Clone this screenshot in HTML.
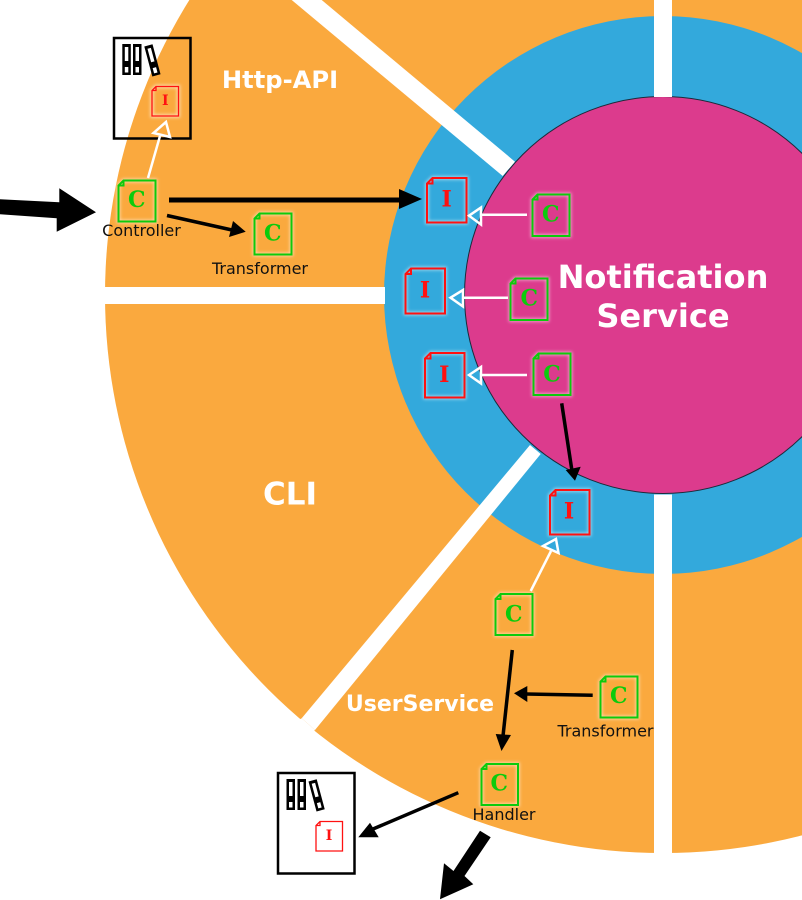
<!DOCTYPE html>
<html><head><meta charset="utf-8"><style>
html,body{margin:0;padding:0;background:#fff;width:802px;height:900px;overflow:hidden}
svg{display:block}
text{font-family:"DejaVu Sans",sans-serif}
.t{font-weight:bold;fill:#fff;text-anchor:middle}
.s{font-size:16px;fill:#111;text-anchor:middle}
.g{font-family:"DejaVu Serif",serif;font-weight:bold;text-anchor:middle}
</style></head><body>
<svg width="802" height="900" viewBox="0 0 802 900" xmlns="http://www.w3.org/2000/svg">
<defs>
<filter id="gl" x="-30%" y="-30%" width="160%" height="160%"><feGaussianBlur stdDeviation="1.5"/></filter>
<g id="bd">
<rect x="0" y="0" width="8.500" height="31" fill="#000"/>
<rect x="2.500" y="3" width="3.500" height="14" fill="#fff"/>
<rect x="2.500" y="23" width="3.500" height="5.500" fill="#fff"/>
</g>
</defs>

<circle cx="663" cy="295" r="558" fill="#faa93e"/>
<circle cx="663" cy="295" r="279" fill="#33a9dc"/>
<circle cx="663" cy="295" r="198.500" fill="#dc3b8d" stroke="#1c2a3a" stroke-width="1"/>

<rect x="654" y="0" width="18" height="97" fill="#fff"/>
<rect x="654" y="494.500" width="18" height="360" fill="#fff"/>
<rect x="100" y="287" width="285" height="17" fill="#fff"/>
<polygon points="291.700,0 321.700,0 515,161.700 502.700,176" fill="#fff"/>
<polygon points="530,445 540.700,454 315,730 301.700,718.300" fill="#fff"/>
<polygon points="301.700,718.300 315,730 300,740 290,725" fill="#fff"/>

<!-- boxes -->
<rect x="114" y="38" width="76.500" height="100.500" fill="none" stroke="#000" stroke-width="2.500"/>
<rect x="278" y="773" width="76.500" height="100.500" fill="none" stroke="#000" stroke-width="2.500"/>
<use href="#bd" transform="translate(122.300,44)"/>
<use href="#bd" transform="translate(133,44)"/>
<use href="#bd" transform="translate(144.300,46.500) rotate(-15)"/>
<use href="#bd" transform="translate(286.500,779)"/>
<use href="#bd" transform="translate(297.500,779)"/>
<use href="#bd" transform="translate(308.500,781.500) rotate(-15)"/>

<!-- icons -->
<g fill="none" stroke-linejoin="miter">
<g stroke="#fff" stroke-opacity=".55" stroke-width="3.500" filter="url(#gl)">
<path d="M123.500,180.500 H155.500 V221.500 H118.500 V185.500 Z"/>
<path d="M259.500,213.500 H291.500 V254.500 H254.500 V218.500 Z"/>
<path d="M156,86.500 H178.500 V116 H152 V90.500 Z"/>
<path d="M432.500,178 H466.500 V222.500 H427 V183.500 Z"/>
<path d="M411,268.500 H445 V313.500 H405.500 V274 Z"/>
<path d="M430.500,353 H464.500 V397.500 H425 V358.500 Z"/>
<path d="M537.500,194.500 H569.500 V236 H532.500 V199.500 Z"/>
<path d="M515.500,278.500 H547.500 V320 H510.500 V283.500 Z"/>
<path d="M538.500,353.500 H570.500 V395 H533.500 V358.500 Z"/>
<path d="M555.500,490 H589.500 V534.500 H550 V495.500 Z"/>
<path d="M500.500,594 H532.500 V635 H495.500 V599 Z"/>
<path d="M605.500,676.500 H637.500 V717.500 H600.500 V681.500 Z"/>
<path d="M486.500,764 H518 V805 H481.500 V769 Z"/>
</g>
<g stroke="#0ccb0c" stroke-width="2">
<path d="M123.500,180.500 H155.500 V221.500 H118.500 V185.500 Z M118.500,185.500 H123.500 V180.500"/>
<path d="M259.500,213.500 H291.500 V254.500 H254.500 V218.500 Z M254.500,218.500 H259.500 V213.500"/>
<path d="M537.500,194.500 H569.500 V236 H532.500 V199.500 Z M532.500,199.500 H537.500 V194.500"/>
<path d="M515.500,278.500 H547.500 V320 H510.500 V283.500 Z M510.500,283.500 H515.500 V278.500"/>
<path d="M538.500,353.500 H570.500 V395 H533.500 V358.500 Z M533.500,358.500 H538.500 V353.500"/>
<path d="M500.500,594 H532.500 V635 H495.500 V599 Z M495.500,599 H500.500 V594"/>
<path d="M605.500,676.500 H637.500 V717.500 H600.500 V681.500 Z M600.500,681.500 H605.500 V676.500"/>
<path d="M486.500,764 H518 V805 H481.500 V769 Z M481.500,769 H486.500 V764"/>
</g>
<g stroke="#ff1111" stroke-width="2">
<path d="M432.500,178 H466.500 V222.500 H427 V183.500 Z M427,183.500 H432.500 V178"/>
<path d="M411,268.500 H445 V313.500 H405.500 V274 Z M405.500,274 H411 V268.500"/>
<path d="M430.500,353 H464.500 V397.500 H425 V358.500 Z M425,358.500 H430.500 V353"/>
<path d="M555.500,490 H589.500 V534.500 H550 V495.500 Z M550,495.500 H555.500 V490"/>
</g>
<g stroke="#ff1111" stroke-width="1.300">
<path d="M156,86.500 H178.500 V116 H152 V90.500 Z M152,90.500 H156 V86.500"/>
<path d="M320,821.500 H342.500 V851 H316 V825.500 Z M316,825.500 H320 V821.500"/>
</g>
</g>
<g font-size="22" fill="#0ccb0c">
<text x="136.700" y="207" class="g">C</text>
<text x="272.700" y="240.300" class="g">C</text>
<text x="550.700" y="221.300" class="g">C</text>
<text x="529.300" y="305.700" class="g">C</text>
<text x="552" y="381.300" class="g">C</text>
<text x="513.700" y="621.300" class="g">C</text>
<text x="618.700" y="703" class="g">C</text>
<text x="499.300" y="790.700" class="g">C</text>
</g>
<g font-size="22" fill="#ff1111">
<text x="446.700" y="206.300" class="g">I</text>
<text x="425" y="297.300" class="g">I</text>
<text x="444.300" y="382" class="g">I</text>
<text x="569" y="518.700" class="g">I</text>
</g>
<g font-size="14" fill="#ff1111">
<text x="165.300" y="105" class="g">I</text>
<text x="329" y="840" class="g">I</text>
</g>

<!-- white hollow arrows -->
<g fill="none" stroke="#fff" stroke-width="2.500">
<path d="M148,178 L160,136"/>
<polygon points="166,122 153.500,133 170,137"/>
<path d="M527,214.700 H481"/>
<polygon points="469,215.700 481,207.500 481,224.500"/>
<path d="M508,297.700 H463"/>
<polygon points="450.500,297.700 463,290 463,306.500"/>
<path d="M527,375 H481"/>
<polygon points="469,375 481,367 481,383.500"/>
<path d="M530.700,591 L551,551"/>
<polygon points="556,539 543,546 558.500,553"/>
</g>

<!-- black arrows -->
<polygon points="0,199.300 59.300,202.300 59.300,188.300 96,212.300 56.700,231.700 56.700,218.300 0,214.300" fill="#000"/>
<path d="M169,200 H401" stroke="#000" stroke-width="5"/>
<polygon points="399,189 422,199 399,209" fill="#000"/>
<path d="M167,215.500 L232,230" stroke="#000" stroke-width="3.500"/>
<polygon points="233,221 245.700,231.700 229,237" fill="#000"/>
<path d="M561.700,403.300 L572,471" stroke="#000" stroke-width="3.500"/>
<polygon points="565.700,470 580.700,466.700 575,480.700" fill="#000"/>
<path d="M512.300,650 L503,736" stroke="#000" stroke-width="3.500"/>
<polygon points="495.700,734 511,735 501.500,751" fill="#000"/>
<path d="M592.700,695.300 L526,694" stroke="#000" stroke-width="3.500"/>
<polygon points="514,693.300 527.300,686 527.300,702" fill="#000"/>
<path d="M458.300,792.700 L373,829" stroke="#000" stroke-width="3.500"/>
<polygon points="358.300,837.300 370,822.700 378.700,837.300" fill="#000"/>
<polygon points="480,830.700 490.700,837.300 464.500,876 473.300,884.300 440,899.300 444,863.300 453.500,871" fill="#000"/>

<!-- labels -->
<text class="t" x="280" y="88" font-size="24.200">Http-API</text>
<text class="t" x="290" y="504.500" font-size="31">CLI</text>
<text class="t" x="420" y="711" font-size="22">UserService</text>
<text class="t" x="663" y="288" font-size="32.100">Notification</text>
<text class="t" x="663" y="327" font-size="32.100">Service</text>
<text class="s" x="141.500" y="236">Controller</text>
<text class="s" x="260" y="274">Transformer</text>
<text class="s" x="605.500" y="736.500">Transformer</text>
<text class="s" x="504" y="820">Handler</text>
</svg>
</body></html>
